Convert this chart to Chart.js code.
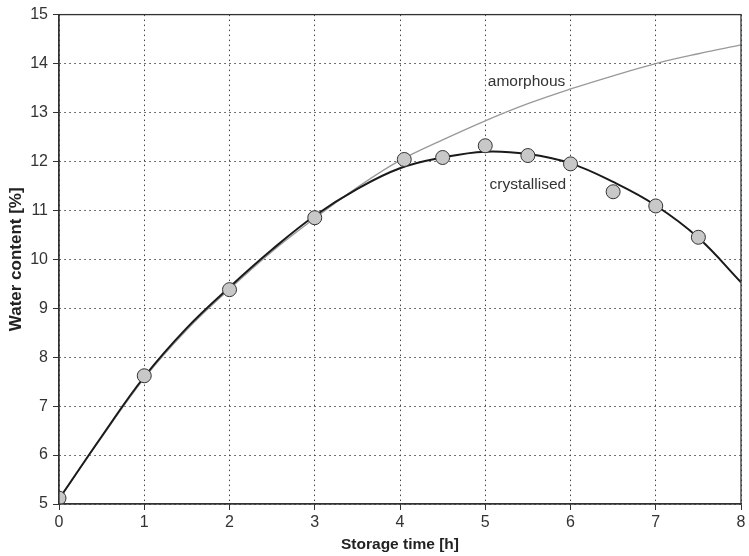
<!DOCTYPE html>
<html>
<head>
<meta charset="utf-8">
<script src="https://cdn.jsdelivr.net/npm/chart.js@4"></script>
<style>
  html, body { margin: 0; padding: 0; background: #fff; }
  #wrap { width: 749px; height: 556px; }
</style>
</head>
<body>
<div id="wrap"><canvas id="waterChart" width="749" height="556"></canvas></div>
<script>
// Measured water content over storage time
const sampleTimes = [0, 1, 2, 3, 4.05, 4.5, 5, 5.5, 6, 6.5, 7, 7.5];
const sampleWater = [5.12, 7.62, 9.38, 10.85, 12.04, 12.08, 12.32, 12.12, 11.95, 11.38, 11.09, 10.45];

// Fitted curves, read at half-hour steps
const curveTimes = [0, 0.5, 1, 1.5, 2, 2.5, 3, 3.5, 4, 4.5, 5, 5.5, 6, 6.5, 7, 7.5, 8];
const crystallised = [5.1, 6.38, 7.6, 8.6, 9.43, 10.2, 10.89, 11.44, 11.86, 12.08, 12.2, 12.15, 11.96, 11.58, 11.1, 10.44, 9.53];
const amorphous = [5.1, 6.36, 7.57, 8.56, 9.39, 10.16, 10.84, 11.47, 12.02, 12.44, 12.83, 13.18, 13.48, 13.75, 14.0, 14.2, 14.38];

const xTicks = [0, 1, 2, 3, 4, 5, 6, 7, 8];
const yTicks = [5, 6, 7, 8, 9, 10, 11, 12, 13, 14, 15];

const curveLabels = [
    { text: 'amorphous', x: 5.03, y: 13.62 },
    { text: 'crystallised', x: 5.05, y: 11.52 }
];

const fontFamily = "'Liberation Sans', Arial, sans-serif";

function toPoints(xs, ys) {
    return xs.map((x, i) => ({ x: x, y: ys[i] }));
}

// Frame round the plot area plus the two curve names
const framePlugin = {
    id: 'frame',
    afterDatasetsDraw(chart) {
        const ctx = chart.ctx;
        const area = chart.chartArea;
        const xs = chart.scales.x;
        const ys = chart.scales.y;
        ctx.save();
        ctx.strokeStyle = '#333';
        ctx.lineWidth = 1.3;
        ctx.strokeRect(area.left, area.top, area.right - area.left, area.bottom - area.top);
        ctx.fillStyle = '#333';
        ctx.font = '15.5px ' + fontFamily;
        ctx.textAlign = 'left';
        ctx.textBaseline = 'middle';
        curveLabels.forEach(l => {
            ctx.fillText(l.text, xs.getPixelForValue(l.x), ys.getPixelForValue(l.y));
        });
        ctx.restore();
    }
};

const ctx = document.getElementById('waterChart').getContext('2d');
const waterChart = new Chart(ctx, {
    type: 'scatter',
    data: {
        datasets: [
            {
                label: 'measured',
                data: toPoints(sampleTimes, sampleWater),
                pointRadius: 7,
                pointBackgroundColor: '#c8c8c8',
                pointBorderColor: '#333',
                pointBorderWidth: 1,
                showLine: false,
                order: 0
            },
            {
                label: 'crystallised',
                data: toPoints(curveTimes, crystallised),
                showLine: true,
                borderColor: '#1a1a1a',
                borderWidth: 2,
                pointRadius: 0,
                tension: 0.4,
                order: 1
            },
            {
                label: 'amorphous',
                data: toPoints(curveTimes, amorphous),
                showLine: true,
                borderColor: '#999',
                borderWidth: 1.3,
                pointRadius: 0,
                tension: 0.4,
                order: 2
            }
        ]
    },
    options: {
        responsive: false,
        animation: false,
        layout: { padding: { left: 0, right: 4, top: 13, bottom: 0 } },
        plugins: {
            legend: { display: false },
            tooltip: { enabled: false }
        },
        scales: {
            x: {
                type: 'linear',
                min: 0,
                max: 8,
                afterBuildTicks: scale => { scale.ticks = xTicks.map(v => ({ value: v })); },
                afterFit: scale => { scale.height = 52; },
                grid: {
                    color: '#444',
                    lineWidth: 1,
                    tickLength: 6,
                    tickColor: '#333',
                    tickBorderDash: []
                },
                border: { display: true, color: '#333', width: 1.3, dash: [1.5, 3.5] },
                ticks: {
                    color: '#333',
                    padding: 3,
                    font: { family: fontFamily, size: 16 }
                },
                title: {
                    display: true,
                    text: 'Storage time [h]',
                    color: '#222',
                    padding: { top: 0, bottom: 2 },
                    font: { family: fontFamily, size: 15.5, weight: 'bold' }
                }
            },
            y: {
                type: 'linear',
                min: 5,
                max: 15,
                afterBuildTicks: scale => { scale.ticks = yTicks.map(v => ({ value: v })); },
                afterFit: scale => { scale.width = 59; },
                grid: {
                    color: '#444',
                    lineWidth: 1,
                    tickLength: 6,
                    tickColor: '#333',
                    tickBorderDash: []
                },
                border: { display: true, color: '#333', width: 1.3, dash: [1.5, 3.5] },
                ticks: {
                    color: '#333',
                    padding: 5,
                    font: { family: fontFamily, size: 16 }
                },
                title: {
                    display: true,
                    text: 'Water content [%]',
                    color: '#222',
                    padding: { top: 6, bottom: 0 },
                    font: { family: fontFamily, size: 17, weight: 'bold' }
                }
            }
        }
    },
    plugins: [framePlugin]
});
</script>
</body>
</html>
